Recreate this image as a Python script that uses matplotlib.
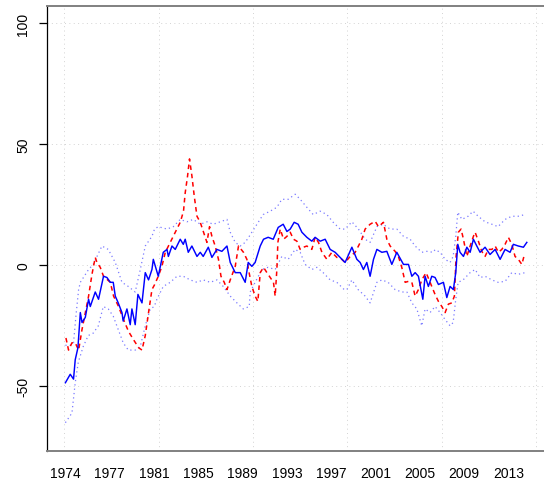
import numpy as np
import matplotlib
matplotlib.use("Agg")
import matplotlib.pyplot as plt

plt.rcParams['font.family'] = ['Liberation Sans', 'DejaVu Sans']

# main estimate (blue, solid)
blue_x = [1974.00, 1974.43, 1974.72, 1974.87, 1975.11, 1975.32, 1975.47, 1975.76, 1976.05, 1976.20,
          1976.64, 1976.93, 1977.37, 1977.67, 1977.97, 1978.23, 1978.41, 1978.67, 1979.00, 1979.11,
          1979.44, 1979.73, 1979.88, 1980.17, 1980.41, 1980.77, 1981.06, 1981.35, 1981.65, 1981.77,
          1982.21, 1982.65, 1982.98, 1983.10, 1983.42, 1983.71, 1984.15, 1984.42, 1984.59, 1984.86,
          1985.18, 1985.63, 1985.92, 1986.18, 1986.63, 1986.95, 1987.39, 1987.83, 1988.28, 1988.57,
          1989.01, 1989.45, 1989.89, 1990.16, 1990.48, 1990.77, 1991.22, 1991.51, 1991.92, 1992.37,
          1992.81, 1993.25, 1993.58, 1993.87, 1994.22, 1994.57, 1994.90, 1995.34, 1995.78, 1996.07,
          1996.52, 1996.96, 1997.40, 1997.84, 1998.28, 1998.72, 1999.32, 1999.76, 2000.05, 2000.34,
          2000.64, 2000.93, 2001.23, 2001.53, 2001.97, 2002.41, 2002.85, 2003.29, 2003.88, 2004.32,
          2004.62, 2004.91, 2005.20, 2005.59, 2005.79, 2006.08, 2006.38, 2006.67, 2006.97, 2007.41,
          2007.71, 2008.00, 2008.29, 2008.50, 2008.68, 2008.88, 2009.18, 2009.48, 2009.77, 2010.06,
          2010.36, 2010.65, 2011.09, 2011.53, 2011.98, 2012.42, 2012.86, 2013.30, 2013.59, 2014.03,
          2014.48, 2014.78]
blue_y = [-48.5, -45, -47, -39, -34, -19.5, -23.6, -21.5, -14, -17,
          -11, -14, -4.5, -5, -7, -7, -12.7, -15.5, -19.5, -23,
          -18, -24.5, -18, -24.5, -12, -15.5, -3, -6, -1.7, 2.5,
          -4.5, 5.4, 6.6, 3.7, 8, 6.6, 10.8, 8.7, 10.8, 5.4,
          8, 3.7, 5.4, 3.7, 7.5, 3.3, 6.6, 5.8, 8, 1.2,
          -3, -3, -7, 1.2, -0.4, 1.2, 8, 10.8, 11.6, 10.8,
          15.7, 17, 14, 15, 17.8, 17, 13.7, 11.6, 10, 11.6,
          10, 10.8, 6.6, 5.4, 3.3, 1.2, 7.5, 2.5, 1.2, -1.7,
          1.2, -4.5, 2.5, 6.6, 5.4, 5.8, 0.4, 5.4, 0.4, 0.4,
          -4.5, -3, -4.5, -14, -4.5, -8.7, -4.5, -5, -7.9, -7,
          -13.3, -8.7, -10, -3, 8.7, 5.4, 3.7, 7.5, 5.4, 10.8,
          8, 5.4, 7.5, 4.5, 6.6, 2.5, 6.6, 5.4, 8.7, 8,
          7.5, 9.5]

# comparison series (red, dashed)
red_x = [1974.05, 1974.28, 1974.58, 1974.87, 1975.17, 1975.47, 1975.76, 1976.05, 1976.35, 1976.64,
         1976.79, 1977.08, 1977.37, 1977.97, 1978.26, 1978.70, 1979.14, 1979.58, 1980.02, 1980.47,
         1980.77, 1981.06, 1981.35, 1981.65, 1981.88, 1982.21, 1982.53, 1982.83, 1983.27, 1983.71,
         1984.15, 1984.44, 1984.59, 1984.80, 1984.97, 1985.18, 1985.39, 1985.63, 1985.92, 1986.21,
         1986.51, 1986.74, 1986.95, 1987.24, 1987.53, 1987.75, 1988.04, 1988.28, 1988.57, 1989.01,
         1989.30, 1989.74, 1990.04, 1990.18, 1990.48, 1990.77, 1991.01, 1991.22, 1991.51, 1991.81,
         1992.10, 1992.39, 1992.54, 1992.69, 1992.78, 1992.99, 1993.28, 1993.58, 1993.87, 1994.16,
         1994.46, 1994.75, 1995.04, 1995.34, 1995.78, 1996.07, 1996.37, 1996.67, 1997.11, 1997.55,
         1997.99, 1998.43, 1998.72, 1999.17, 1999.61, 1999.90, 2000.20, 2000.49, 2000.93, 2001.38,
         2001.67, 2002.11, 2002.41, 2002.70, 2003.14, 2003.43, 2003.73, 2004.03, 2004.32, 2004.62,
         2004.91, 2005.20, 2005.50, 2005.88, 2006.23, 2006.67, 2006.97, 2007.27, 2007.56, 2007.85,
         2008.15, 2008.38, 2008.53, 2008.73, 2008.97, 2009.18, 2009.48, 2009.77, 2010.06, 2010.21,
         2010.50, 2010.80, 2011.09, 2011.38, 2011.69, 2011.98, 2012.27, 2012.57, 2012.86, 2013.15,
         2013.45, 2013.74, 2014.03, 2014.34, 2014.57]
red_y = [-30, -35, -32, -32, -35, -26.5, -19.5, -12.7, -3.7, 3.3,
         1.2, -0.8, -4.5, -7, -12.7, -17, -22.4, -27.3, -30.7, -34,
         -35, -29, -19.5, -10, -8, -4.5, -0.4, 5.4, 9.5, 13.7,
         17.8, 22.4, 30, 37, 44, 37, 28.6, 20.3, 17.8, 13.7,
         9.5, 16, 12, 8, 2.5, -4.5, -7, -10, -6, -0.4,
         8, 5.4, 2.5, -1.7, -8.7, -12.7, -14.9, -3, -0.8, -3,
         -5, -7, -12.7, -1.7, 9.5, 15, 10.8, 12, 13.7, 10.8,
         10, 6.6, 7.5, 8, 6.6, 11.6, 9.5, 5.4, 2.5, 5.4,
         3.3, 2.5, 1.2, 3.7, 5.4, 8, 10.8, 15, 17, 18.2,
         16, 17.8, 10.8, 8, 5.8, 3.7, -0.8, -7, -6.6, -7,
         -12.7, -10, -6, -3, -7, -12, -14.9, -17, -19.5, -16,
         -15.5, -12.7, 3.7, 13.7, 15, 10.8, 3.7, 8, 12, 13.7,
         10, 5.8, 3.7, 6.6, 6.6, 8, 5.4, 6.6, 8.7, 11.6,
         8.7, 3.7, 2.5, 0.4, 4.5]

# upper band (blue, dotted)
up_x = [1974.00, 1974.43, 1974.72, 1974.95, 1975.17, 1975.32, 1976.05, 1976.46, 1977.23, 1977.79,
        1978.41, 1979.00, 1979.56, 1980.17, 1980.62, 1981.06, 1981.65, 1981.88, 1982.21, 1982.98,
        1983.54, 1984.15, 1984.74, 1985.30, 1985.92, 1986.51, 1987.07, 1987.68, 1988.28, 1988.57,
        1989.01, 1989.45, 1989.89, 1990.25, 1990.48, 1991.04, 1991.48, 1992.10, 1992.69, 1993.13,
        1993.69, 1994.31, 1994.75, 1995.34, 1995.90, 1996.52, 1997.11, 1997.67, 1998.28, 1998.72,
        1999.32, 1999.90, 2000.49, 2000.93, 2001.53, 2002.08, 2002.70, 2003.29, 2003.88, 2004.47,
        2004.91, 2005.50, 2005.94, 2006.50, 2006.67, 2007.12, 2007.56, 2008.00, 2008.27, 2008.50,
        2008.68, 2009.04, 2009.59, 2010.03, 2010.48, 2011.09, 2011.69, 2012.24, 2012.86, 2013.45,
        2014.01, 2014.63]
up_y = [-33, -33, -32, -20, -10, -7, -1.7, 0.4, 8, 6.6,
        1.2, -7, -8.7, -11, -1.7, 8, 12, 15, 16, 15,
        16, 19, 18, 19, 17, 18, 17, 18, 19, 13.7,
        9.5, 8, 9.5, 12, 13.7, 17.8, 21, 22.4, 24, 27.3,
        27.3, 29.4, 27.3, 24, 21, 22.4, 21, 17.8, 15, 15,
        18, 15, 10.8, 9.5, 16, 17, 15, 15, 12, 10.8,
        8, 5.4, 5.8, 5.4, 6.5, 5.4, 2.5, 1.2, 3.7, 12,
        22, 19, 20.3, 22.4, 20.3, 18, 17, 16, 19, 20.3,
        20.3, 21]

# lower band (blue, dotted)
lo_x = [1974.00, 1974.58, 1974.87, 1975.14, 1975.58, 1976.02, 1976.46, 1976.91, 1977.35, 1977.79,
        1978.23, 1978.67, 1979.11, 1979.56, 1980.17, 1980.62, 1981.06, 1981.50, 1981.85, 1982.09,
        1982.65, 1983.27, 1983.86, 1984.42, 1985.03, 1985.63, 1986.18, 1986.80, 1987.39, 1987.95,
        1988.57, 1989.16, 1989.72, 1990.25, 1990.33, 1990.77, 1991.37, 1991.92, 1992.54, 1993.13,
        1993.69, 1994.31, 1994.75, 1995.19, 1995.78, 1996.23, 1996.78, 1997.40, 1997.99, 1998.64,
        1998.88, 1999.32, 1999.87, 2000.49, 2000.93, 2001.53, 2001.97, 2002.52, 2003.14, 2003.73,
        2004.18, 2004.62, 2005.06, 2005.50, 2005.79, 2006.23, 2006.67, 2007.12, 2007.56, 2008.00,
        2008.27, 2008.50, 2008.71, 2009.15, 2009.77, 2010.21, 2010.65, 2011.09, 2011.69, 2012.24,
        2012.86, 2013.45, 2014.01, 2014.63]
lo_y = [-65, -61, -48.5, -40, -33.5, -29, -28, -25, -17, -18,
        -21, -26.5, -32, -35, -35, -33.5, -25, -18, -17, -14,
        -8.7, -7, -4.5, -4.5, -6, -7, -6, -7, -6, -8.7,
        -12.7, -15.5, -18, -17, -11, -7, -1.7, -0.8, -1.7, 3.7,
        2.5, 6.6, 5.4, 0.4, -1.7, -0.8, -3, -6, -7, -10,
        -10, -6, -10, -12.7, -15.5, -7, -6, -7, -10, -11,
        -11, -15.5, -18, -25, -18, -19.5, -17, -19.5, -22.4, -25,
        -23.6, -14, -7, -6, -3, -1.7, -5, -4.5, -6, -7,
        -6.6, -3, -3.7, -3]

# x axis labels (year of the observation they sit under)
lab_years = ['1974', '1977', '1981', '1985', '1989', '1993', '1997', '2001', '2005', '2009', '2013']
lab_step = 47  # months between labels


def month_index(years):
    # observation number, monthly, starting at Jan 1974 = 1
    return (np.asarray(years) - 1974.0) * 12 + 1


fig = plt.figure(figsize=(5.44, 4.89), dpi=100)
ax = fig.add_axes([46.9 / 544, 37 / 489, 499 / 544, 445.3 / 489])

ax.plot(month_index(up_x), up_y, color='#7a7aff', lw=0.9, dashes=(1, 2.5))
ax.plot(month_index(lo_x), lo_y, color='#7a7aff', lw=0.9, dashes=(1, 2.5))
ax.plot(month_index(red_x), red_y, color='red', lw=1.1, dashes=(3, 2.5))
ax.plot(month_index(blue_x), blue_y, color='blue', lw=1.05)

ax.set_xlim(-18.6, 510.6)
ax.set_ylim(-76.7, 107.3)

# grid like R's grid()
for gx in range(0, 501, 100):
    ax.axvline(gx, color='#d3d3d3', lw=0.7, ls=(0, (1, 3.5)), zorder=0)
for gy in [-50, 0, 50, 100]:
    ax.axhline(gy, color='#d3d3d3', lw=0.7, ls=(0, (1, 3.5)), zorder=0)

ax.set_yticks([-50, 0, 50, 100])
ax.set_yticklabels(['-50', '0', '50', '100'], rotation=90, va='center', fontsize=10)
ax.tick_params(axis='y', length=6, width=0.9, pad=6)

ax.set_xticks([1 + lab_step * k for k in range(len(lab_years))])
ax.set_xticklabels(lab_years, fontsize=10)
ax.tick_params(axis='x', length=0, pad=11)

ax.spines['right'].set_visible(False)
ax.spines['top'].set_color('#808080')
ax.spines['bottom'].set_color('#808080')
ax.spines['top'].set_linewidth(1.4)
ax.spines['bottom'].set_linewidth(1.4)
ax.spines['left'].set_color('black')
ax.spines['left'].set_linewidth(0.9)

fig.savefig('out.png', dpi=100)
